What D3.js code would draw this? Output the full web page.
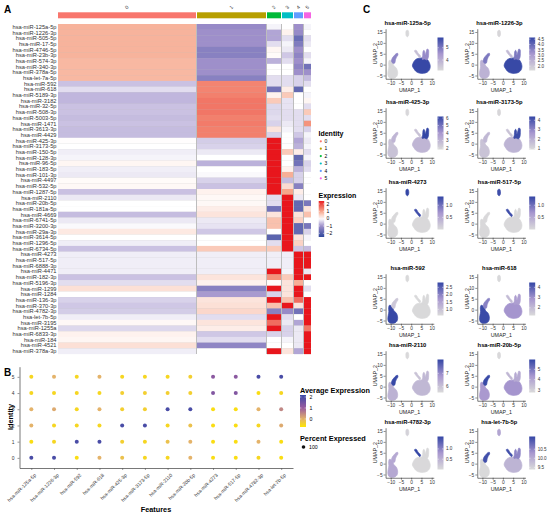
<!DOCTYPE html>
<html>
<head>
<meta charset="utf-8">
<script src="https://cdn.jsdelivr.net/npm/d3@7"></script>
<style>
  body { margin: 0; background: #fff; }
  text { font-family: "Liberation Sans", Arial, sans-serif; }
</style>
</head>
<body>
<svg id="fig" width="550" height="515"></svg>
<script>
// ---------------- Data ----------------
// A: heatmap rows (features) and scaled expression per cluster
const features = [
  "hsa-miR-125a-5p","hsa-miR-1226-3p","hsa-miR-505-5p","hsa-miR-17-5p","hsa-miR-4746-5p",
  "hsa-miR-23b-3p","hsa-miR-574-3p","hsa-miR-340-3p","hsa-miR-378a-5p","hsa-let-7a-5p",
  "hsa-miR-592","hsa-miR-618","hsa-miR-5189-3p","hsa-miR-3182","hsa-miR-32-5p",
  "hsa-miR-508-3p","hsa-miR-5003-5p","hsa-miR-1471","hsa-miR-3613-3p","hsa-miR-4429",
  "hsa-miR-425-3p","hsa-miR-3173-5p","hsa-miR-150-5p","hsa-miR-128-3p","hsa-miR-96-5p",
  "hsa-miR-183-5p","hsa-miR-101-3p","hsa-miR-4497","hsa-miR-532-5p","hsa-miR-1287-5p",
  "hsa-miR-2110","hsa-miR-20b-5p","hsa-miR-181a-5p","hsa-miR-4669","hsa-miR-6741-5p",
  "hsa-miR-3200-3p","hsa-miR-29a-3p","hsa-miR-3614-5p","hsa-miR-1296-5p","hsa-miR-6734-5p",
  "hsa-miR-4273","hsa-miR-517-5p","hsa-miR-6888-3p","hsa-miR-4471","hsa-miR-182-3p",
  "hsa-miR-5196-3p","hsa-miR-1299","hsa-miR-1284","hsa-miR-136-3p","hsa-miR-370-3p",
  "hsa-miR-4782-3p","hsa-let-7b-5p","hsa-miR-3195","hsa-miR-1255a","hsa-miR-6833-3p",
  "hsa-miR-184","hsa-miR-4521","hsa-miR-378a-3p"
];
const clusters = ["0", "1", "2", "3", "4", "5"];
const clusterCells = [138, 69, 14, 11, 9, 7];

const expr0 = [0.85,0.85,0.85,0.85,0.85,0.85,0.8,0.8,0.8,0.8,
  -0.55,-0.3,-0.65,-0.65,-0.55,-0.55,-0.6,-0.55,-0.6,-0.6,
  0.02,0,-0.15,-0.1,0.1,-0.15,-0.2,0.05,0.08,-0.55,
  -0.2,0,0,-0.6,-0.2,-0.05,0.25,0,-0.15,-0.55,
  -0.15,-0.15,-0.15,-0.15,-0.55,-0.3,0.35,0,-0.4,-0.5,
  -0.45,-0.15,0.08,-0.35,0.15,0.1,0.35,-0.15];
const expr1 = [-1.1,-1.0,-1.0,-1.0,-1.3,-1.3,-1.0,-1.0,-1.0,-1.3,
  1.35,1.35,1.4,1.5,1.5,1.5,1.4,1.45,1.4,1.4,
  -0.45,-0.4,-0.2,0,-0.7,0,-0.05,-0.4,-0.55,0.15,
  0.08,0.08,0.2,0.3,-0.2,-0.25,-0.5,0,0,0.6,
  -0.15,-0.15,-0.15,-0.15,0.3,0.15,-1.3,-0.9,0.3,0.35,
  0.45,-0.3,0.3,0.2,-0.5,-0.3,-1.2,0];
const expr2 = [-0.1,-0.8,-0.8,-0.3,0.1,0.05,-0.7,0,0,-0.3,
  -0.3,-1.6,0.15,0.6,-0.35,-0.35,-0.3,-0.4,0.3,-0.4,
  2.5,2.5,2.5,2.5,2.5,2.5,2.5,2.5,2.5,2.5,
  -0.3,-0.3,-1.6,0.3,0.7,0.7,0,-1.9,-0.3,0.6,
  -0.15,-0.15,-0.15,2.5,1.2,0.05,2.5,-0.4,2.5,0.7,
  -1.3,2.5,1.6,2.5,-0.4,0,0,2.5];
const expr3 = [0,0.15,-0.3,-0.1,-0.2,-0.5,-0.3,0,0,-0.3,
  -0.3,0.2,0.6,-0.25,-0.25,-0.3,-0.3,-0.2,-0.1,0,
  0,0,0.6,0,0,0.15,0.9,-0.6,0.4,1.0,
  2.5,2.5,2.5,2.5,2.5,2.5,2.5,2.5,2.5,2.5,
  -0.15,-0.15,-0.15,-0.1,0.6,0.3,0.3,0.3,0.7,2.5,
  -1.1,-0.3,-0.2,-0.4,-0.4,-0.1,0,0.3];
const expr4 = [-1.0,-1.1,-1.7,-1.4,-1.0,-1.2,-1.0,-1.2,-1.0,-0.4,
  -0.4,-1.8,0,0,0,-0.3,-0.3,-0.3,-0.3,-0.5,
  -0.8,-0.7,0.2,-1.8,-1.6,-0.7,-0.4,-0.4,-1.3,0.2,
  -0.2,-1.8,-1.8,0.3,0.5,-1.8,-1.8,0.3,0.5,-0.5,
  2.5,2.5,2.5,2.5,2.5,0.9,2.5,2.5,1.6,0.3,
  -1.6,0,-0.8,-0.2,-0.2,-0.2,-0.2,-0.8];
const expr5 = [-0.1,0,-0.3,-0.2,0,-0.3,-0.1,-1.6,-1.0,-0.6,
  -0.3,0,-0.1,0.1,-0.3,0.6,-0.3,1.2,-0.4,-0.1,
  -0.2,-0.1,-0.3,-0.1,-0.4,-0.3,0,0,0,0,
  0,-1.5,0.3,0.7,0,-1.5,-0.4,-0.1,0,-0.6,
  2.5,2.5,2.5,-0.2,2.5,0,-0.3,0,2.5,2.5,
  2.5,2.5,2.5,1.5,2.5,2.5,2.5,2.5];
const exprTicks = [2, 1, 0, -1, -2];

// B: dot plot
const dotFeatures = ["hsa-miR-125a-5p","hsa-miR-1226-3p","hsa-miR-592","hsa-miR-618",
  "hsa-miR-425-3p","hsa-miR-3173-5p","hsa-miR-2110","hsa-miR-20b-5p",
  "hsa-miR-4273","hsa-miR-517-5p","hsa-miR-4782-3p","hsa-let-7b-5p"];
const identities = ["0", "1", "2", "3", "4", "5"];
const avgExpId0 = [2.0, 2.0, -0.6, 0.0, -0.2, -0.5, -0.5, 0.0, -0.6, -0.6, -0.5, -0.6];
const avgExpId1 = [-0.6, -0.5, 2.0, 2.0, -0.4, -0.5, -0.2, 0.0, -0.6, -0.6, 0.0, -0.6];
const avgExpId2 = [0.0, -0.5, -0.5, -0.5, 2.0, 2.0, -0.5, -0.2, -0.6, -0.6, -0.5, 0.1];
const avgExpId3 = [0.0, 0.1, -0.5, 0.0, -0.4, -0.4, 2.0, 2.0, -0.6, -0.6, 0.0, 0.5];
const avgExpId4 = [-0.5, -0.5, -0.5, -0.5, -0.4, -0.4, -0.4, -0.4, 1.3, 1.3, -0.6, -0.5];
const avgExpId5 = [-0.5, 0.0, -0.5, 0.0, -0.5, -0.5, -0.5, -0.4, 1.2, 1.2, 2.0, 2.0];
const avgExpTicks = [2, 1, 0];

// C: UMAP feature plots
const umapFeatures = ["hsa-miR-125a-5p","hsa-miR-1226-3p","hsa-miR-425-3p","hsa-miR-3173-5p",
  "hsa-miR-4273","hsa-miR-517-5p","hsa-miR-592","hsa-miR-618",
  "hsa-miR-2110","hsa-miR-20b-5p","hsa-miR-4782-3p","hsa-let-7b-5p"];
const umapMin = [3.15, 1.6, 1.8, 0.9, 0, 0, 0.58, 1.25, 5.57, 2.76, 0, 9.38];
const umapMax = [5.83, 4.65, 6.2, 4.4, 1.36, 1.36, 2.83, 4.47, 8.03, 5.95, 1.6, 11.2];
const umapTickLabels = [["4","5"],["2.0","2.5","3.0","3.5","4.0","4.5"],["2","3","4","5","6"],
  ["1","2","3","4"],["0.5","1.0"],["0.5","1.0"],["1.0","1.5","2.0","2.5"],["2","3","4"],
  ["6","7"],["3","4","5"],["0.5","1.0"],["9.5","10.0","10.5"]];
// mean expression of each cluster region, one value per feature plot
const umapC0 = [5.8, 4.6, 3.0, 1.9, 0.02, 0.02, 0.6, 2.9, 6.2, 4.4, 0.02, 9.9];
const umapC1 = [3.2, 2.5, 2.6, 1.5, 0.02, 0.02, 2.8, 4.4, 6.3, 4.3, 0.6, 9.4];
const umapC2 = [4.7, 3.7, 6.2, 4.3, 0.02, 0.02, 0.6, 2.7, 6.2, 3.9, 0.02, 10.5];
const umapC3 = [4.8, 3.7, 3.0, 1.8, 0.02, 0.02, 0.9, 3.3, 8.0, 5.9, 0.6, 11.1];
const umapC4 = [3.2, 1.7, 1.9, 1.0, 1.36, 1.3, 0.6, 1.3, 5.6, 2.8, 0.1, 10.1];
const umapC5 = [3.7, 2.3, 2.6, 1.5, 1.3, 1.3, 0.6, 2.0, 6.0, 3.6, 1.6, 11.1];
// outline of each cluster in UMAP coordinates [UMAP_1, UMAP_2]
const shapeC0 = [[1.2,1.2],[2.2,2.4],[3.6,2.9],[5.2,3.1],[6.6,2.8],[8.0,2.2],[8.9,0.8],[9.3,-0.8],
  [8.9,-2.4],[7.8,-3.5],[6.0,-4.0],[4.0,-3.9],[2.4,-3.2],[1.4,-2.0],[0.6,-0.6]];
const shapeC1 = [[-10.6,2.0],[-9.6,1.6],[-8.9,0.6],[-8.4,-0.6],[-7.4,-1.4],[-6.8,-2.6],[-6.6,-4.0],
  [-7.0,-5.4],[-8.0,-6.1],[-9.6,-6.3],[-10.9,-5.8],[-11.4,-4.4],[-11.2,-2.6],[-10.9,-1.0],[-11.0,0.8]];
const shapeC2 = [[5.4,2.4],[5.6,4.2],[5.8,6.0],[6.2,6.6],[6.6,5.8],[6.8,4.4],[7.3,5.8],[7.8,7.2],
  [8.4,6.8],[8.5,5.0],[8.3,3.2],[7.6,2.2],[6.4,2.6]];
const shapeC3 = [[-9.6,1.6],[-9.2,3.0],[-8.4,4.0],[-7.4,5.0],[-6.6,5.2],[-6.5,4.4],[-7.2,3.4],
  [-7.7,2.2],[-8.0,0.8],[-8.9,0.6]];
const shapeC4 = [[-2.4,15.6],[-1.6,15.8],[-1.2,14.8],[-1.3,13.4],[-1.8,12.8],[-2.4,13.2],[-2.6,14.4]];
const shapeC5 = [[1.6,6.4],[2.4,6.6],[3.4,5.2],[4.6,3.8],[4.2,3.2],[3.0,4.4],[2.0,5.6]];
const umapXTicks = [-10, -5, 0, 5, 10];
const umapYTicks = [-5, 0, 5, 10, 15];

// ---------------- Drawing ----------------
const svg = d3.select("#fig");
const hue = ["#F8766D", "#B79F00", "#00BA38", "#00BFC4", "#619CFF", "#F564E3"];

function panelLetter(t, x, y) {
  svg.append("text").attr("x", x).attr("y", y).text(t)
    .attr("font-size", 10).attr("font-weight", "bold");
}
panelLetter("A", 4, 13);
panelLetter("B", 4, 376);
panelLetter("C", 363, 13);

// ---- A: heatmap
const exprByCluster = [expr0, expr1, expr2, expr3, expr4, expr5];
const rowY = d3.scaleBand().domain(features).range([24, 354]);
const cellX = d3.scaleLinear().domain([0, d3.sum(clusterCells)]).range([58, 58 + d3.sum(clusterCells)]);
const starts = d3.cumsum([0, ...clusterCells]);
const colX0 = clusters.map((c, i) => cellX(starts[i]) + i);
const colX1 = clusters.map((c, i) => cellX(starts[i + 1]) + i);

const heatColor = d3.scaleLinear()
  .domain([-2.5, -1, 0, 1, 2.5])
  .range(["#2F479C", "#9E8FCA", "#FFFFFF", "#F6A68B", "#E8161C"])
  .clamp(true);

const heat = svg.append("g");
heat.append("rect").attr("x", 58).attr("y", 24).attr("width", colX1[5] - 58).attr("height", 330)
  .attr("fill", "#BDBDBD");

clusters.forEach((c, i) => {
  heat.append("rect").attr("x", colX0[i]).attr("y", 12.3)
    .attr("width", colX1[i] - colX0[i]).attr("height", 6).attr("fill", hue[i]);
  const cx = (colX0[i] + colX1[i]) / 2;
  heat.append("text").attr("x", cx).attr("y", 9.5).text(c)
    .attr("font-size", 5).attr("fill", "#333")
    .attr("transform", `rotate(-45,${cx},9.5)`);
  heat.selectAll(null).data(exprByCluster[i]).join("rect")
    .attr("x", colX0[i]).attr("width", colX1[i] - colX0[i])
    .attr("y", (d, j) => rowY(features[j])).attr("height", rowY.bandwidth() + 0.15)
    .attr("fill", d => heatColor(d));
});

heat.selectAll(".rowlab").data(features).join("text")
  .attr("x", 56.5).attr("y", d => rowY(d) + rowY.bandwidth() / 2)
  .attr("dy", "0.35em").attr("text-anchor", "end")
  .attr("font-size", 5.7).attr("fill", "#333").text(d => d);

// Identity legend
const leg = svg.append("g");
leg.append("text").attr("x", 318.5).attr("y", 135.5).text("Identity")
  .attr("font-size", 7).attr("font-weight", "bold");
clusters.forEach((c, i) => {
  const yy = 141.3 + i * 7.4;
  leg.append("circle").attr("cx", 320.8).attr("cy", yy).attr("r", 1.1).attr("fill", hue[i]);
  leg.append("text").attr("x", 324.5).attr("y", yy).attr("dy", "0.35em").text(c).attr("font-size", 5);
});

// Expression legend
const defs = svg.append("defs");
const gExpr = defs.append("linearGradient").attr("id", "gExpr")
  .attr("x1", 0).attr("x2", 0).attr("y1", 1).attr("y2", 0);
d3.range(0, 1.0001, 0.1).forEach(t => {
  const v = -2.5 + t * 4.9;
  gExpr.append("stop").attr("offset", t).attr("stop-color", heatColor(v));
});
leg.append("text").attr("x", 318.5).attr("y", 197.5).text("Expression")
  .attr("font-size", 7).attr("font-weight", "bold");
const exprBar = d3.scaleLinear().domain([-2.5, 2.4]).range([237, 201]);
leg.append("rect").attr("x", 318.7).attr("y", 201).attr("width", 5.5).attr("height", 36)
  .attr("fill", "url(#gExpr)");
exprTicks.forEach(v => {
  leg.append("text").attr("x", 326.5).attr("y", exprBar(v)).attr("dy", "0.35em")
    .text(d3.format("d")(v)).attr("font-size", 5);
  leg.append("line").attr("x1", 318.7).attr("x2", 320).attr("y1", exprBar(v)).attr("y2", exprBar(v))
    .attr("stroke", "#fff").attr("stroke-width", 0.5);
  leg.append("line").attr("x1", 322.9).attr("x2", 324.2).attr("y1", exprBar(v)).attr("y2", exprBar(v))
    .attr("stroke", "#fff").attr("stroke-width", 0.5);
});

// ---- B: dot plot
const avgExp = [avgExpId0, avgExpId1, avgExpId2, avgExpId3, avgExpId4, avgExpId5];
const dotX = d3.scalePoint().domain(dotFeatures).range([19.5, 293]).padding(0.52);
const dotY = d3.scalePoint().domain(identities).range([468, 366.7]).padding(0.625);
const dotColor = d3.scaleLinear()
  .domain([-0.73, 0, 1, 2.18])
  .range(["#FFE600", "#E4B36A", "#9B5C9F", "#3A49A7"])
  .clamp(true);

const dot = svg.append("g");
identities.forEach((id, i) => {
  dot.selectAll(null).data(avgExp[i]).join("circle")
    .attr("cx", (d, k) => dotX(dotFeatures[k])).attr("cy", dotY(id))
    .attr("r", 2).attr("fill", d => dotColor(d));
});

const xAx = dot.append("g").attr("transform", "translate(0,468)")
  .call(d3.axisBottom(dotX).tickSize(2).tickSizeOuter(0));
xAx.selectAll("text").attr("font-size", 4.9).attr("fill", "#333")
  .attr("text-anchor", "end").attr("dy", 0).attr("dx", 0)
  .attr("transform", "translate(1,4) rotate(-45)");
const yAx = dot.append("g").attr("transform", "translate(19.5,0)")
  .call(d3.axisLeft(dotY).tickSize(2).tickSizeOuter(0));
yAx.selectAll("text").attr("font-size", 4.9).attr("fill", "#333");
[xAx, yAx].forEach(a => {
  a.select(".domain").attr("stroke", "#555").attr("stroke-width", 0.8);
  a.selectAll(".tick line").attr("stroke", "#555").attr("stroke-width", 0.6);
});

dot.append("text").attr("x", 156).attr("y", 511.5).attr("text-anchor", "middle")
  .text("Features").attr("font-size", 7.3).attr("font-weight", "bold");
dot.append("text").attr("transform", "translate(12.5,417) rotate(-90)")
  .attr("text-anchor", "middle").text("Identity")
  .attr("font-size", 7.3).attr("font-weight", "bold");

// dot plot legends
const gAvg = defs.append("linearGradient").attr("id", "gAvg")
  .attr("x1", 0).attr("x2", 0).attr("y1", 1).attr("y2", 0);
d3.range(0, 1.0001, 0.1).forEach(t => {
  gAvg.append("stop").attr("offset", t).attr("stop-color", dotColor(-0.73 + t * 2.91));
});
const avgBar = d3.scaleLinear().domain([-0.73, 2.18]).range([427, 395]);
dot.append("text").attr("x", 300).attr("y", 392.5).text("Average Expression")
  .attr("font-size", 7.3).attr("font-weight", "bold");
dot.append("rect").attr("x", 300).attr("y", 395).attr("width", 6).attr("height", 32)
  .attr("fill", "url(#gAvg)");
avgExpTicks.forEach(v => {
  dot.append("text").attr("x", 309.5).attr("y", avgBar(v)).attr("dy", "0.35em")
    .text(v).attr("font-size", 5.2);
  dot.append("line").attr("x1", 300).attr("x2", 301.4).attr("y1", avgBar(v)).attr("y2", avgBar(v))
    .attr("stroke", "#fff").attr("stroke-width", 0.5);
  dot.append("line").attr("x1", 304.6).attr("x2", 306).attr("y1", avgBar(v)).attr("y2", avgBar(v))
    .attr("stroke", "#fff").attr("stroke-width", 0.5);
});
dot.append("text").attr("x", 300).attr("y", 440.5).text("Percent Expressed")
  .attr("font-size", 7.3).attr("font-weight", "bold");
dot.append("circle").attr("cx", 303.5).attr("cy", 447).attr("r", 1.8).attr("fill", "#111");
dot.append("text").attr("x", 309).attr("y", 447).attr("dy", "0.35em").text("100").attr("font-size", 5.2);

// ---- C: UMAP feature plots
const umapByCluster = [umapC0, umapC1, umapC2, umapC3, umapC4, umapC5];
const shapes = [shapeC0, shapeC1, shapeC2, shapeC3, shapeC4, shapeC5];
const drawOrder = [1, 3, 0, 2, 5, 4];
const rowTop = [23, 102, 182, 268, 345, 422];
const colShift = 91.7;
const fpStops = ["#DADADA", "#A897CF", "#3446A5"];

const gFp = defs.append("linearGradient").attr("id", "gFp")
  .attr("x1", 0).attr("x2", 0).attr("y1", 1).attr("y2", 0);
fpStops.forEach((c, i) => gFp.append("stop").attr("offset", i / 2).attr("stop-color", c));

umapFeatures.forEach((feat, p) => {
  const T = rowTop[Math.floor(p / 2)];
  const dx = (p % 2) * colShift;
  const x = d3.scaleLinear().domain([-10, 10]).range([390.7 + dx, 431.7 + dx]);
  const y = d3.scaleLinear().domain([15, -5]).range([T + 9, T + 52.5]);
  const lo = umapMin[p], hi = umapMax[p];
  const col = d3.scaleLinear().domain([lo, (lo + hi) / 2, hi]).range(fpStops).clamp(true);
  const g = svg.append("g");

  const outline = d3.line().x(d => x(d[0])).y(d => y(d[1]))
    .curve(d3.curveCatmullRomClosed.alpha(0.5));
  drawOrder.forEach(k => {
    const c = col(umapByCluster[k][p]);
    g.append("path").attr("d", outline(shapes[k]))
      .attr("fill", c).attr("stroke", c).attr("stroke-width", 0.7);
  });

  const ax = g.append("g").attr("transform", `translate(0,${y(-6.5)})`)
    .call(d3.axisBottom(x.copy().domain([-12.5, 11]).range([x(-12.5), x(11)]))
      .tickValues(umapXTicks).tickSize(2).tickPadding(1).tickSizeOuter(0));
  const ay = g.append("g").attr("transform", `translate(${x(-12.5)},0)`)
    .call(d3.axisLeft(y.copy().domain([16.5, -6.5]).range([y(16.5), y(-6.5)]))
      .tickValues(umapYTicks).tickSize(2).tickPadding(1).tickSizeOuter(0));
  [ax, ay].forEach(a => {
    a.select(".domain").attr("stroke", "#222").attr("stroke-width", 0.6);
    a.selectAll(".tick line").attr("stroke", "#222").attr("stroke-width", 0.5);
    a.selectAll("text").attr("font-size", 4.8).attr("fill", "#333");
  });

  const cx = (x(-12.5) + x(11)) / 2;
  g.append("text").attr("x", cx - 2).attr("y", T + 2).text(feat)
    .attr("text-anchor", "middle").attr("font-size", 5.8).attr("font-weight", "bold");
  g.append("text").attr("x", cx).attr("y", T + 69.3).text("UMAP_1")
    .attr("text-anchor", "middle").attr("font-size", 5.3).attr("fill", "#222");
  g.append("text").attr("transform", `translate(${376.8 + dx},${(y(16.5) + y(-6.5)) / 2}) rotate(-90)`)
    .attr("text-anchor", "middle").text("UMAP_2").attr("font-size", 5.3).attr("fill", "#222");

  // colour bar
  const bx = 437.5 + dx;
  const bar = d3.scaleLinear().domain([lo, hi]).range([T + 47.5, T + 14.5]);
  g.append("rect").attr("x", bx).attr("y", T + 14.5).attr("width", 6).attr("height", 33)
    .attr("fill", "url(#gFp)");
  umapTickLabels[p].forEach(lab => {
    const v = +lab;
    g.append("text").attr("x", bx + 8.5).attr("y", bar(v)).attr("dy", "0.35em")
      .text(lab).attr("font-size", 4.6).attr("fill", "#333");
    g.append("line").attr("x1", bx).attr("x2", bx + 1.3).attr("y1", bar(v)).attr("y2", bar(v))
      .attr("stroke", "#fff").attr("stroke-width", 0.5);
    g.append("line").attr("x1", bx + 4.7).attr("x2", bx + 6).attr("y1", bar(v)).attr("y2", bar(v))
      .attr("stroke", "#fff").attr("stroke-width", 0.5);
  });
});
</script>
</body>
</html>
